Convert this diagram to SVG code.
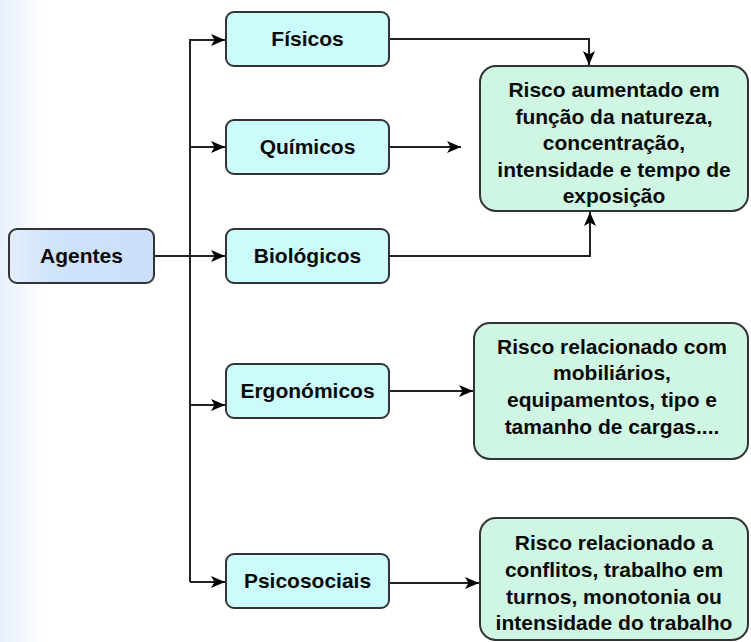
<svg xmlns="http://www.w3.org/2000/svg" width="751" height="642" viewBox="0 0 751 642">
<defs>
<linearGradient id="bg" x1="0" y1="0" x2="1" y2="0">
<stop offset="0" stop-color="#e6effb"/>
<stop offset="1" stop-color="#ffffff"/>
</linearGradient>
<linearGradient id="ag" x1="0" y1="0" x2="1" y2="0">
<stop offset="0" stop-color="#e2eefc"/>
<stop offset="0.3" stop-color="#cfe3fb"/>
<stop offset="1" stop-color="#c9dff9"/>
</linearGradient>
<marker id="arr" viewBox="0 0 14 12" refX="14" refY="6" markerWidth="14" markerHeight="12" markerUnits="userSpaceOnUse" orient="auto">
<path d="M0,0 L14,6 L0,12 L3.5,6 Z" fill="#000"/>
</marker>
<style>
.box{stroke:#333;stroke-width:2}
.cat{fill:#ccfbfc}
.res{fill:#cff6e2}
.t{font-family:"Liberation Sans",Arial,sans-serif;font-weight:bold;font-size:21px;fill:#0a0a0a;text-anchor:middle}
.c{fill:none;stroke:#222;stroke-width:2}
</style>
</defs>
<rect x="0" y="0" width="45" height="642" fill="url(#bg)"/>
<g id="connectors">
<path class="c" d="M154,256 H225" marker-end="url(#arr)"/>
<path class="c" d="M190,582 V40 H225" marker-end="url(#arr)"/>
<path class="c" d="M190,147 H225" marker-end="url(#arr)"/>
<path class="c" d="M190,405 H225" marker-end="url(#arr)"/>
<path class="c" d="M190,582 H225" marker-end="url(#arr)"/>
<path class="c" d="M389,39 H589 V65" marker-end="url(#arr)"/>
<path class="c" d="M389,147 H461" marker-end="url(#arr)"/>
<path class="c" d="M389,256 H590 V212" marker-end="url(#arr)"/>
<path class="c" d="M389,391 H473" marker-end="url(#arr)"/>
<path class="c" d="M389,583 H479" marker-end="url(#arr)"/>
</g>
<g id="agentes">
<rect class="box" x="9" y="229" width="145" height="54" rx="8" fill="url(#ag)"/>
<text class="t" x="81.5" y="263">Agentes</text>
</g>
<g id="fisicos">
<rect class="box cat" x="226" y="12" width="163" height="54" rx="8"/>
<text class="t" x="307.5" y="46">Físicos</text>
</g>
<g id="quimicos">
<rect class="box cat" x="226" y="120" width="163" height="54" rx="8"/>
<text class="t" x="307.5" y="154">Químicos</text>
</g>
<g id="biologicos">
<rect class="box cat" x="226" y="229" width="163" height="54" rx="8"/>
<text class="t" x="307.5" y="263">Biológicos</text>
</g>
<g id="ergonomicos">
<rect class="box cat" x="226" y="364" width="163" height="54" rx="8"/>
<text class="t" x="307.5" y="398">Ergonómicos</text>
</g>
<g id="psicosociais">
<rect class="box cat" x="226" y="554" width="163" height="54" rx="8"/>
<text class="t" x="307.5" y="588">Psicosociais</text>
</g>
<g id="risco1">
<rect class="box res" x="480" y="66" width="268" height="145" rx="16"/>
<text class="t" x="614" y="97">Risco aumentado em</text>
<text class="t" x="614" y="124">função da natureza,</text>
<text class="t" x="614" y="150">concentração,</text>
<text class="t" x="614" y="177">intensidade e tempo de</text>
<text class="t" x="614" y="203">exposição</text>
</g>
<g id="risco2">
<rect class="box res" x="474" y="323" width="274" height="136" rx="16"/>
<text class="t" x="612" y="354">Risco relacionado com</text>
<text class="t" x="612" y="380">mobiliários,</text>
<text class="t" x="612" y="407">equipamentos, tipo e</text>
<text class="t" x="612" y="434">tamanho de cargas....</text>
</g>
<g id="risco3">
<rect class="box res" x="480" y="518" width="268" height="122" rx="16"/>
<text class="t" x="614" y="550">Risco relacionado a</text>
<text class="t" x="614" y="577">conflitos, trabalho em</text>
<text class="t" x="614" y="604">turnos, monotonia ou</text>
<text class="t" x="614" y="630">intensidade do trabalho</text>
</g>
</svg>
